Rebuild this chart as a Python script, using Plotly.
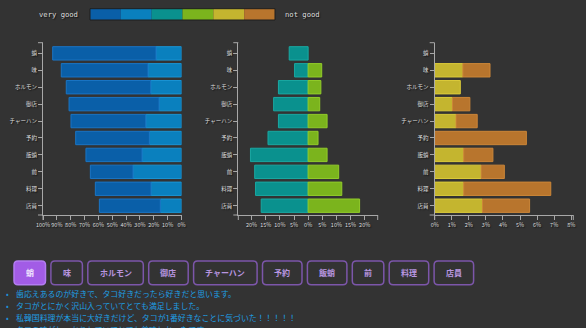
import plotly.graph_objects as go

# ---- data -------------------------------------------------------------
categories = ["蛸", "味", "ホルモン", "御店", "チャーハン", "予約", "飯蛸", "前", "料理", "店員"]

very_good = [74.6, 62.6, 61.0, 65.0, 54.0, 53.2, 40.5, 30.8, 40.2, 44.0]
good = [18.4, 24.2, 22.2, 16.2, 25.8, 23.2, 28.5, 35.0, 22.0, 15.3]
fair = [6.7, 4.8, 10.5, 12.2, 10.5, 14.2, 20.4, 18.9, 18.6, 16.6]
mediocre = [0, 4.8, 4.5, 4.1, 6.7, 3.5, 6.7, 10.8, 11.9, 18.2]
poor = [0, 1.65, 1.5, 1.04, 1.25, 0, 1.7, 2.72, 1.7, 2.8]
not_good = [0, 1.59, 0, 1.02, 1.24, 5.37, 1.71, 1.36, 5.1, 2.76]

ticks_left = [100, 90, 80, 70, 60, 50, 40, 30, 20, 10, 0]
ticks_mid = [-20, -15, -10, -5, 0, 5, 10, 15, 20]
ticks_right = [0, 1, 2, 3, 4, 5, 6, 7, 8]

comments = [
    "歯応えあるのが好きで、タコ好きだったら好きだと思います。",
    "タコがとにかく沢山入っていてとても満足しました。",
    "私韓国料理が本当に大好きだけど、タコが1番好きなことに気づいた！！！！！",
    "タコの味がしっかりしていてとても美味しかったです。",
]
selected = "蛸"

palette = ["#0a5fa8", "#0a80be", "#0a918e", "#7bb41d", "#c4b52f", "#b8752d"]
edges = ["#1a74c4", "#1a94d4", "#1aa8a2", "#92cc2a", "#dccb3a", "#cc8638"]

W, H = 586, 328
BG = "#333333"
FONT = "Noto Sans CJK JP"


def px(x):
    return x / W


def py(y):
    return 1 - y / H


def nz(vals):
    return [v if v else None for v in vals]


fig = go.Figure()

# left panel: positive shares, axis runs from 100% down to 0%
fig.add_bar(y=categories, x=good, orientation="h", xaxis="x", yaxis="y",
            marker=dict(color=palette[1], line=dict(color=edges[1], width=1)))
fig.add_bar(y=categories, x=very_good, orientation="h", xaxis="x", yaxis="y",
            marker=dict(color=palette[0], line=dict(color=edges[0], width=1)))

# middle panel: diverging around zero
fig.add_bar(y=categories, x=nz([-v for v in fair]), orientation="h", xaxis="x2", yaxis="y2",
            marker=dict(color=palette[2], line=dict(color=edges[2], width=1)))
fig.add_bar(y=categories, x=nz(mediocre), orientation="h", xaxis="x2", yaxis="y2",
            marker=dict(color=palette[3], line=dict(color=edges[3], width=1)))

# right panel: negative shares
fig.add_bar(y=categories, x=nz(poor), orientation="h", xaxis="x3", yaxis="y3",
            marker=dict(color=palette[4], line=dict(color=edges[4], width=1)))
fig.add_bar(y=categories, x=nz(not_good), orientation="h", xaxis="x3", yaxis="y3",
            marker=dict(color=palette[5], line=dict(color=edges[5], width=1)))

fig.update_traces(hoverinfo="skip", showlegend=False)

panels = [
    ("x", "y", 43, 181.5, [100, 0], ticks_left, [f"{v}%" for v in ticks_left]),
    ("x2", "y2", 238.3, 377.7, [-24.7, 24.6], ticks_mid, [f"{abs(v)}%" for v in ticks_mid]),
    ("x3", "y3", 434.7, 573.3, [0, 8.12], ticks_right, [f"{v}%" for v in ticks_right]),
]
top_px, bottom_px = 42.7, 215
axis_color = "#a8a8a8"
tick_font = dict(family=FONT, size=5.5, color="#dddddd", shadow="1px 1px 1px #111")

layout_axes = {}
shapes = []
for xa, ya, x0, x1, rng, tv, tt in panels:
    xkey = "xaxis" + xa[1:]
    ykey = "yaxis" + ya[1:]
    layout_axes[xkey] = dict(
        domain=[px(x0), px(x1)], anchor=ya, range=rng, tickmode="array",
        tickvals=tv, ticktext=tt, tickangle=0, automargin=False,
        showline=True, linecolor=axis_color, linewidth=1,
        ticks="outside", ticklen=4, tickcolor=axis_color, tickwidth=1,
        tickfont=tick_font, showgrid=False, zeroline=False, fixedrange=True,
    )
    layout_axes[ykey] = dict(
        domain=[py(bottom_px), py(top_px)], anchor=xa, type="category",
        categoryorder="array", categoryarray=categories, range=[9.55, -0.63],
        automargin=False, showline=True, linecolor=axis_color, linewidth=1,
        ticks="outside", ticklen=4, tickcolor=axis_color, tickwidth=1,
        tickfont=tick_font, showgrid=False, zeroline=False, fixedrange=True,
    )
    # outer end caps of the axis lines
    for yy in (top_px, bottom_px):
        shapes.append(dict(type="line", xref="paper", yref="paper",
                           x0=px(x0 - 5), x1=px(x0), y0=py(yy), y1=py(yy),
                           line=dict(color=axis_color, width=1)))
    for xx in (x0, x1):
        shapes.append(dict(type="line", xref="paper", yref="paper",
                           x0=px(xx), x1=px(xx), y0=py(bottom_px), y1=py(bottom_px + 5),
                           line=dict(color=axis_color, width=1)))

# colour key
key_x0, key_x1, key_y0, key_y1 = 90, 275, 8.7, 20
seg = (key_x1 - key_x0) / len(palette)
for i, c in enumerate(palette):
    shapes.append(dict(type="rect", xref="paper", yref="paper",
                       x0=px(key_x0 + i * seg), x1=px(key_x0 + (i + 1) * seg),
                       y0=py(key_y1), y1=py(key_y0), fillcolor=c, line=dict(width=0)))
shapes.append(dict(type="rect", xref="paper", yref="paper",
                   x0=px(key_x0), x1=px(key_x1), y0=py(key_y1), y1=py(key_y0),
                   fillcolor="rgba(0,0,0,0)", line=dict(color="#1e1e1e", width=1)))

key_font = dict(family="DejaVu Sans Mono", size=7.2, color="#dddddd", shadow="1px 1px 1px #111")
annotations = [
    dict(text="very good", x=px(58), y=py(14.7), xref="paper", yref="paper",
         showarrow=False, xanchor="center", yanchor="middle", font=key_font),
    dict(text="not good", x=px(302.5), y=py(14.7), xref="paper", yref="paper",
         showarrow=False, xanchor="center", yanchor="middle", font=key_font),
]


def rounded_rect(x0, y0, x1, y1, r):
    rx, ry = r / W, r / H
    a0, a1 = px(x0), px(x1)
    b0, b1 = py(y1), py(y0)  # bottom, top in paper space
    return (f"M{a0 + rx},{b1} L{a1 - rx},{b1} Q{a1},{b1} {a1},{b1 - ry} "
            f"L{a1},{b0 + ry} Q{a1},{b0} {a1 - rx},{b0} L{a0 + rx},{b0} "
            f"Q{a0},{b0} {a0},{b0 + ry} L{a0},{b1 - ry} Q{a0},{b1} {a0 + rx},{b1} Z")


# category buttons
bx = 14
btn_y0, btn_y1 = 261, 284.7
for name in categories:
    w = 8 * len(name) + 23.5
    active = name == selected
    shapes.append(dict(type="path", xref="paper", yref="paper",
                       path=rounded_rect(bx, btn_y0, bx + w, btn_y1, 4),
                       fillcolor="#a25ce6" if active else BG,
                       line=dict(color="#b27cf0" if active else "#7c56aa", width=1.5)))
    annotations.append(dict(text=name, x=px(bx + w / 2), y=py((btn_y0 + btn_y1) / 2),
                            xref="paper", yref="paper", showarrow=False,
                            xanchor="center", yanchor="middle",
                            font=dict(family=FONT, size=8, weight="bold",
                                      color="#f0e6ff" if active else "#b896e0")))
    bx += w + 5.4

# review comments
for i, line in enumerate(comments):
    yy = 293.3 + 12 * i
    annotations.append(dict(text="•", x=px(7), y=py(yy), xref="paper", yref="paper",
                            showarrow=False, xanchor="center", yanchor="middle",
                            font=dict(family=FONT, size=8, color="#1e8fd8")))
    annotations.append(dict(text=line, x=px(14), y=py(yy), xref="paper", yref="paper",
                            showarrow=False, xanchor="left", yanchor="middle",
                            font=dict(family=FONT, size=7.9, color="#1e9fe3")))

fig.update_layout(
    width=W, height=H, margin=dict(l=0, r=0, t=0, b=0),
    paper_bgcolor=BG, plot_bgcolor=BG, barmode="relative", bargap=0.21,
    showlegend=False, shapes=shapes, annotations=annotations,
    font=dict(family=FONT, color="#dddddd"),
    **layout_axes,
)

fig.write_html("out.html", config={"displayModeBar": False, "staticPlot": True})
